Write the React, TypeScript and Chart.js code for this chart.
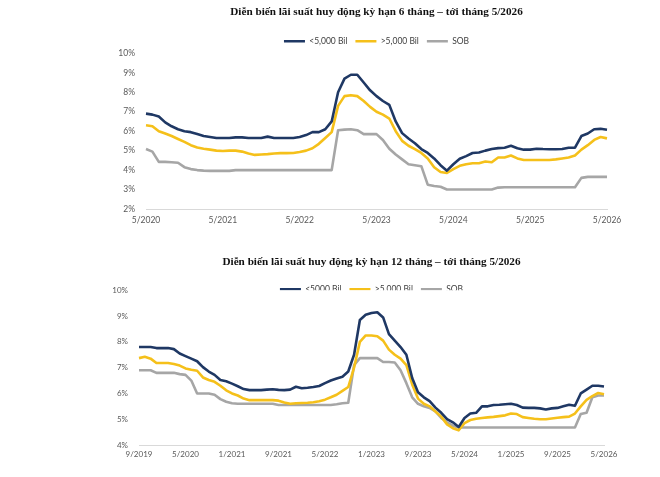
import React, { useEffect, useRef } from "react";
import { Chart, registerables } from "chart.js";

Chart.register(...registerables);

// ---------- data ----------
function monthLabels(startMonth: number, startYear: number, count: number): string[] {
  const out: string[] = [];
  let m = startMonth;
  let y = startYear;
  for (let i = 0; i < count; i++) {
    out.push(`${m}/${y}`);
    m++;
    if (m > 12) { m = 1; y++; }
  }
  return out;
}

const seriesNames6 = ["<5,000 Bil", ">5,000 Bil", "SOB"];
const seriesNames12 = ["<5000 Bil", ">5,000 Bil", "SOB"];

const categories6 = monthLabels(5, 2020, 73);
const tickLabels6 = ["5/2020", "5/2021", "5/2022", "5/2023", "5/2024", "5/2025", "5/2026"];

const small6 = [
  6.9, 6.85, 6.75, 6.45, 6.25, 6.1, 6.0, 5.95, 5.85, 5.75, 5.7, 5.65,
  5.65, 5.65, 5.68, 5.68, 5.65, 5.65, 5.65, 5.72, 5.65, 5.65, 5.65, 5.65,
  5.7, 5.8, 5.95, 5.95, 6.1, 6.5, 8.0, 8.7, 8.9, 8.9, 8.5, 8.1,
  7.8, 7.55, 7.35, 6.5, 5.9, 5.62, 5.38, 5.08, 4.88, 4.6, 4.25, 3.97,
  4.3, 4.58, 4.72, 4.88, 4.9, 5.0, 5.08, 5.13, 5.15, 5.25, 5.12, 5.05,
  5.05, 5.1, 5.08, 5.07, 5.07, 5.08, 5.15, 5.15, 5.75, 5.88, 6.1, 6.12,
  6.07,
];
const large6 = [
  6.3, 6.25, 6.0, 5.88, 5.75, 5.6, 5.45, 5.28, 5.16, 5.1, 5.05, 5.0,
  4.98, 5.0, 5.0, 4.95, 4.85, 4.78, 4.8, 4.82, 4.85, 4.87, 4.87, 4.88,
  4.93, 5.0, 5.12, 5.35, 5.65, 5.95, 7.3, 7.8, 7.85, 7.8, 7.55, 7.25,
  7.0, 6.85, 6.65, 6.0, 5.5, 5.25, 5.08, 4.88, 4.6, 4.15, 3.9, 3.85,
  4.05, 4.22, 4.3, 4.35, 4.35, 4.44, 4.4, 4.65, 4.65, 4.75, 4.6, 4.52,
  4.52, 4.52, 4.52, 4.52, 4.55, 4.6, 4.65, 4.75, 5.05, 5.28, 5.55, 5.7,
  5.63,
];
const sob6 = [
  5.08, 4.95, 4.42, 4.42, 4.4, 4.38, 4.15, 4.05, 4.0, 3.97, 3.96, 3.96,
  3.96, 3.96, 4.0, 4.0, 4.0, 4.0, 4.0, 4.0, 4.0, 4.0, 4.0, 4.0,
  4.0, 4.0, 4.0, 4.0, 4.0, 4.0, 6.05, 6.08, 6.1, 6.05, 5.85, 5.85,
  5.85, 5.55, 5.1, 4.8, 4.55, 4.3, 4.25, 4.2, 3.25, 3.18, 3.14, 3.0,
  3.0, 3.0, 3.0, 3.0, 3.0, 3.0, 3.0, 3.1, 3.12, 3.12, 3.12, 3.12,
  3.12, 3.12, 3.12, 3.12, 3.12, 3.12, 3.12, 3.12, 3.6, 3.65, 3.65, 3.65,
  3.65,
];

const categories12 = monthLabels(9, 2019, 81);
const tickLabels12 = ["9/2019", "5/2020", "1/2021", "9/2021", "5/2022", "1/2023", "9/2023", "5/2024", "1/2025", "9/2025", "5/2026"];

const small12 = [
  7.8, 7.8, 7.8, 7.76, 7.76, 7.76, 7.72, 7.55, 7.45, 7.35, 7.25, 7.02,
  6.85, 6.72, 6.52, 6.47, 6.38, 6.28, 6.17, 6.13, 6.13, 6.13, 6.15, 6.16,
  6.14, 6.13, 6.15, 6.26, 6.2, 6.22, 6.25, 6.29, 6.4, 6.5, 6.58, 6.65,
  6.85, 7.5, 8.85, 9.05, 9.12, 9.15, 8.95, 8.3, 8.05, 7.8, 7.5, 6.6,
  6.05, 5.85, 5.7, 5.45, 5.25, 5.0, 4.88, 4.7, 5.05, 5.22, 5.25, 5.5,
  5.5, 5.55, 5.56, 5.58, 5.6, 5.55, 5.45, 5.44, 5.44, 5.42, 5.38, 5.42,
  5.44, 5.5, 5.56, 5.52, 6.0, 6.15, 6.3, 6.3, 6.27,
];
const large12 = [
  7.37, 7.42, 7.35, 7.18, 7.18, 7.18, 7.14, 7.08, 6.97, 6.92, 6.88, 6.62,
  6.52, 6.45, 6.3, 6.12, 6.0, 5.92, 5.8, 5.74, 5.74, 5.74, 5.74, 5.74,
  5.72, 5.65, 5.6, 5.62, 5.63, 5.64, 5.66, 5.7, 5.76, 5.85, 5.95, 6.1,
  6.25, 7.0, 8.0, 8.25, 8.25, 8.22, 8.05, 7.7, 7.5, 7.35, 7.1, 6.35,
  5.8, 5.6, 5.5, 5.3, 5.1, 4.8, 4.65, 4.57, 4.85, 4.97, 5.02, 5.05,
  5.07, 5.09, 5.12, 5.15, 5.22, 5.2, 5.08, 5.05, 5.02, 5.0, 5.0, 5.03,
  5.06, 5.08, 5.1, 5.22, 5.5, 5.75, 5.9, 6.02, 5.97,
];
const sob12 = [
  6.9, 6.9, 6.9, 6.8, 6.8, 6.8, 6.8, 6.75, 6.72, 6.5, 6.0, 6.0,
  6.0, 5.95, 5.78, 5.68, 5.62, 5.6, 5.6, 5.6, 5.6, 5.6, 5.6, 5.6,
  5.55, 5.55, 5.55, 5.55, 5.55, 5.55, 5.55, 5.55, 5.55, 5.55, 5.58, 5.62,
  5.64, 7.1, 7.37, 7.37, 7.37, 7.37, 7.22, 7.22, 7.2, 6.9, 6.4, 5.85,
  5.6, 5.5, 5.44, 5.3, 5.05, 4.88, 4.75, 4.68, 4.68, 4.68, 4.68, 4.68,
  4.68, 4.68, 4.68, 4.68, 4.68, 4.68, 4.68, 4.68, 4.68, 4.68, 4.68, 4.68,
  4.68, 4.68, 4.68, 4.68, 5.2, 5.25, 5.85, 5.92, 5.92,
];

// ---------- styling ----------
const NAVY = "#1F3864";
const GOLD = "#F5C01A";
const GREY = "#A6A6A6";
const TICK_COLOR = "#595959";

type PanelProps = {
  top: number;
  height: number;
  title: string;
  names: string[];
  categories: string[];
  tickLabels: string[];
  series: number[][];
  yMin: number;
  yMax: number;
  yWidth: number;
  xHeight: number;
  padRight: number;
  titlePad: { top: number; bottom: number };
  legendShrink: number;
  tickSize: number;
  xTickPad: number;
};

function Panel(p: PanelProps) {
  const ref = useRef<HTMLCanvasElement | null>(null);
  useEffect(() => {
    if (!ref.current) return;
    const colors = [NAVY, GOLD, GREY];
    const tickSet = new Set(p.tickLabels);
    const shrink = {
      id: "legendShrink",
      beforeLayout(chart: any) {
        const lg = chart.legend;
        if (lg && !lg.__patched) {
          const orig = lg.fit.bind(lg);
          lg.fit = function () {
            orig();
            this.height -= p.legendShrink;
          };
          lg.__patched = true;
        }
      },
    };
    const chart = new Chart(ref.current, {
      type: "line",
      data: {
        labels: p.categories,
        datasets: p.series.map((d, i) => ({
          label: p.names[i],
          data: d,
          borderColor: colors[i],
          backgroundColor: colors[i],
          borderWidth: 2.6,
          pointRadius: 0,
          pointHoverRadius: 0,
          tension: 0,
          fill: false,
          borderJoinStyle: "round" as const,
        })),
      },
      options: {
        animation: false,
        responsive: false,
        events: [],
        layout: { padding: { left: 0, right: p.padRight, top: 0, bottom: 0 } },
        plugins: {
          title: {
            display: true,
            text: p.title,
            fullSize: false,
            color: "#111111",
            font: { family: "'Liberation Serif', 'DejaVu Serif', serif", size: 11.2, weight: "bold" },
            padding: p.titlePad,
          },
          legend: {
            display: true,
            position: "top",
            fullSize: false,
            labels: {
              usePointStyle: true,
              pointStyle: "line",
              pointStyleWidth: 21,
              boxHeight: 8,
              padding: 8,
              color: "#404040",
              font: { family: "Lato, 'Open Sans', sans-serif", size: 8.5 },
            },
          },
          tooltip: { enabled: false },
        },
        scales: {
          x: {
            type: "category",
            grid: { display: false, drawTicks: false },
            border: { display: true, color: "#D9D9D9", width: 1 },
            ticks: {
              autoSkip: false,
              maxRotation: 0,
              minRotation: 0,
              padding: p.xTickPad,
              color: TICK_COLOR,
              font: { family: "Lato, 'Open Sans', sans-serif", size: p.tickSize },
              callback: (_v: any, idx: number) => (tickSet.has(p.categories[idx]) ? p.categories[idx] : ""),
            },
            afterFit: (s: any) => { s.height = p.xHeight; },
          },
          y: {
            min: p.yMin,
            max: p.yMax,
            grid: { display: false, drawTicks: false },
            border: { display: false },
            ticks: {
              stepSize: 1,
              padding: 11,
              color: TICK_COLOR,
              font: { family: "Lato, 'Open Sans', sans-serif", size: p.tickSize },
              callback: (v: any) => `${v}%`,
            },
            afterFit: (s: any) => { s.width = p.yWidth; },
          },
        },
      },
      plugins: [shrink],
    } as any);
    return () => chart.destroy();
  }, []);
  return (
    <canvas
      ref={ref}
      width={660}
      height={p.height}
      style={{ position: "absolute", left: 0, top: p.top, width: 660, height: p.height }}
    />
  );
}

export default function App() {
  return (
    <div style={{ position: "absolute", left: 0, top: 0, width: 660, height: 477, background: "#fff" }}>
      <Panel
        top={0}
        height={240}
        title="Diễn biến lãi suất huy động kỳ hạn 6 tháng – tới tháng 5/2026"
        names={seriesNames6}
        categories={categories6}
        tickLabels={tickLabels6}
        series={[small6, large6, sob6]}
        yMin={2}
        yMax={10}
        yWidth={146}
        xHeight={31}
        padRight={53}
        titlePad={{ top: 5.3, bottom: 10.2 }}
        legendShrink={2.1}
        tickSize={8.5}
        xTickPad={6}
      />
      <Panel
        top={240}
        height={237}
        title="Diễn biến lãi suất huy động kỳ hạn 12 tháng – tới tháng 5/2026"
        names={seriesNames12}
        categories={categories12}
        tickLabels={tickLabels12}
        series={[small12, large12, sob12]}
        yMin={4}
        yMax={10}
        yWidth={139}
        xHeight={32}
        padRight={56}
        titlePad={{ top: 15.3, bottom: 8.2 }}
        legendShrink={13.1}
        tickSize={8}
        xTickPad={5}
      />
    </div>
  );
}
